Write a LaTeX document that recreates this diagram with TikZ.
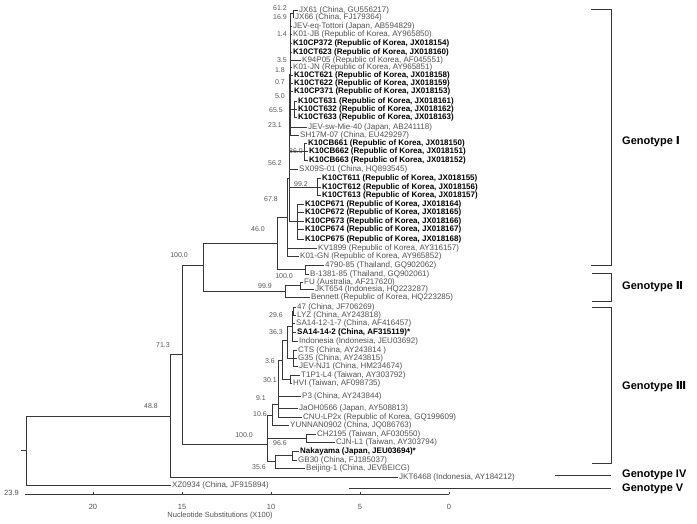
\documentclass[tikz,border=0pt]{standalone}
\usepackage{fontspec}
\setmainfont{Liberation Sans}
\newfontfamily\numfont{DejaVu Sans}
\usetikzlibrary{positioning}
\definecolor{branchgray}{RGB}{55,55,55}
\definecolor{leafgray}{RGB}{80,80,80}
\definecolor{bootgray}{RGB}{85,85,85}
\tikzset{
  br/.style  ={draw=branchgray, line width=0.9pt},
  lf/.style  ={anchor=west, inner sep=0pt, outer sep=1.2pt, text=leafgray, font=\fontsize{8}{9}\selectfont},
  lfb/.style ={lf, text=black, font=\fontsize{8}{9}\selectfont\bfseries},
  boot/.style={anchor=east, inner sep=0pt, text=bootgray, font=\fontsize{7}{8}\selectfont},
  geno/.style={anchor=west, inner sep=0pt, font=\fontsize{11}{12}\selectfont\bfseries},
  scl/.style ={inner sep=0pt, text=leafgray, font=\fontsize{7.5}{8}\selectfont}
}

\begin{document}
\begin{tikzpicture}[x=1pt, y=-1pt]
\useasboundingbox (0,0) rectangle (697,523);

% leaves
\node[lf]  (l01) at (298,10)    {JX61 (China, GU556217)};
\node[lf]  (l02) at (294,17)    {JX66 (China, FJ179364)};
\node[lf]  (l03) at (292,26)    {JEV-eq-Tottori (Japan, AB594829)};
\node[lf]  (l04) at (292,34)    {K01-JB (Republic of Korea, AY965850)};
\node[lfb] (l05) at (292,43)    {K10CP372 (Republic of Korea, JX018154)};
\node[lfb] (l06) at (292,52)    {K10CT623 (Republic of Korea, JX018160)};
\node[lf]  (l07) at (301,60.5)  {K94P05 (Republic of Korea, AF045551)};
\node[lf]  (l08) at (292,67.5)  {K01-JN (Republic of Korea, AY965851)};
\node[lfb] (l09) at (293,75.5)  {K10CT621 (Republic of Korea, JX018158)};
\node[lfb] (l10) at (293,83.5)  {K10CT622 (Republic of Korea, JX018159)};
\node[lfb] (l11) at (293,91.5)  {K10CP371 (Republic of Korea, JX018153)};
\node[lfb] (l12) at (297,101)   {K10CT631 (Republic of Korea, JX018161)};
\node[lfb] (l13) at (297,109)   {K10CT632 (Republic of Korea, JX018162)};
\node[lfb] (l14) at (297,117.5) {K10CT633 (Republic of Korea, JX018163)};
\node[lf]  (l15) at (307,127)   {JEV-sw-Mie-40 (Japan, AB241118)};
\node[lf]  (l16) at (299,135)   {SH17M-07 (China, EU429297)};
\node[lfb] (l17) at (307,143)   {K10CB661 (Republic of Korea, JX018150)};
\node[lfb] (l18) at (308,151.5) {K10CB662 (Republic of Korea, JX018151)};
\node[lfb] (l19) at (308,160)   {K10CB663 (Republic of Korea, JX018152)};
\node[lf]  (l20) at (298,169.5) {SX09S-01 (China, HQ893545)};
\node[lfb] (l21) at (321,178)   {K10CT611 (Republic of Korea, JX018155)};
\node[lfb] (l22) at (321,187)   {K10CT612 (Republic of Korea, JX018156)};
\node[lfb] (l23) at (321,195)   {K10CT613 (Republic of Korea, JX018157)};
\node[lfb] (l24) at (304,204.5) {K10CP671 (Republic of Korea, JX018164)};
\node[lfb] (l25) at (304,212.5) {K10CP672 (Republic of Korea, JX018165)};
\node[lfb] (l26) at (304,221)   {K10CP673 (Republic of Korea, JX018166)};
\node[lfb] (l27) at (304,229)   {K10CP674 (Republic of Korea, JX018167)};
\node[lfb] (l28) at (304,239)   {K10CP675 (Republic of Korea, JX018168)};
\node[lf]  (l29) at (317,248)   {KV1899 (Republic of Korea, AY316157)};
\node[lf]  (l30) at (299,256)   {K01-GN (Republic of Korea, AY965852)};
\node[lf]  (l31) at (324,265)   {4790-85 (Thailand, GQ902062)};
\node[lf]  (l32) at (309,274)   {B-1381-85 (Thailand, GQ902061)};
\node[lf]  (l33) at (303,282)   {FU (Australia, AF217620)};
\node[lf]  (l34) at (314,289.5) {JKT654 (Indonesia, HQ223287)};
\node[lf]  (l35) at (310,297.5) {Bennett (Republic of Korea, HQ223285)};
\node[lf]  (l36) at (296,307)   {47 (China, JF706269)};
\node[lf]  (l37) at (296,315)   {LYZ (China, AY243818)};
\node[lf]  (l38) at (295,323.5) {SA14-12-1-7 (China, AF416457)};
\node[lfb] (l39) at (296,332)   {SA14-14-2 (China, AF315119)*};
\node[lf]  (l40) at (298,341.5) {Indonesia (Indonesia, JEU03692)};
\node[lf]  (l41) at (297,350)   {CTS (China, AY243814 )};
\node[lf]  (l42) at (297,358)   {G35 (China, AY243815)};
\node[lf]  (l43) at (298,366)   {JEV-NJ1 (China, HM234674)};
\node[lf]  (l44) at (300,375)   {T1P1-L4 (Taiwan, AY303792)};
\node[lf]  (l45) at (292,383)   {HVI (Taiwan, AF098735)};
\node[lf]  (l46) at (301,396.5) {P3 (China, AY243844)};
\node[lf]  (l47) at (298,408)   {JaOH0566 (Japan, AY508813)};
\node[lf]  (l48) at (302,417.5) {CNU-LP2x (Republic of Korea, GQ199609)};
\node[lf]  (l49) at (289,425)   {YUNNAN0902 (China, JQ086763)};
\node[lf]  (l50) at (316,434.5) {CH2195 (Taiwan, AF030550)};
\node[lf]  (l51) at (335,442.5) {CJN-L1 (Taiwan, AY303794)};
\node[lfb] (l52) at (299,451)   {Nakayama (Japan, JEU03694)*};
\node[lf]  (l53) at (297,460)   {GB30 (China, FJ185037)};
\node[lf]  (l54) at (305,468)   {Beijing-1 (China, JEVBEICG)};
\node[lf]  (l55) at (398,477)   {JKT6468 (Indonesia, AY184212)};
\node[lf]  (l56) at (171,485)   {XZ0934 (China, JF915894)};

% internal nodes
\coordinate (rootstem) at (21,450);
\coordinate (root)  at (26,450);
\coordinate (n488)  at (170,416);
\coordinate (n713)  at (182,354);
\coordinate (n100a) at (203,265);
\coordinate (n460)  at (277,243);
\coordinate (nIc)   at (287,217);
\coordinate (nIb)   at (289,178);
\coordinate (nIa)   at (290.5,74);
\coordinate (n612)  at (293,13.5);
\coordinate (n655)  at (294,109);
\coordinate (n860)  at (304,151.5);
\coordinate (n992)  at (317,187);
\coordinate (ncp67) at (297,221.5);
\coordinate (n4790) at (305,269.5);
\coordinate (n999)  at (285,291);
\coordinate (nfu)   at (300,285.5);
\coordinate (ng3)   at (267,444);
\coordinate (n106)  at (272,415);
\coordinate (n91)   at (278,404);
\coordinate (n30x)  at (282,360);
\coordinate (n36)   at (287,340);
\coordinate (n363)  at (292.5,326);
\coordinate (n296)  at (293.5,311);
\coordinate (ncg)   at (293,358);
\coordinate (n301)  at (290,379);
\coordinate (ncj)   at (306,438.5);
\coordinate (n356)  at (275,461.5);
\coordinate (nnak)  at (292,455.5);

% branches
\draw[br] (rootstem) -- (root);
\draw[br] (root) |- (n488);  \draw[br] (root) |- (l56.west);
\draw[br] (n488) |- (n713);  \draw[br] (n488) |- (l55.west);
\draw[br] (n713) |- (n100a); \draw[br] (n713) |- (ng3);
\draw[br] (n100a) |- (n460); \draw[br] (n100a) |- (n999);
\draw[br] (n460) |- (nIc);   \draw[br] (n460) |- (n4790);
\draw[br] (n4790) |- (l31.west); \draw[br] (n4790) |- (l32.west);
\draw[br] (n999) |- (nfu);   \draw[br] (n999) |- (l35.west);
\draw[br] (nfu) |- (l33.west); \draw[br] (nfu) |- (l34.west);
\draw[br] (nIc) |- (nIb);    \draw[br] (nIc) |- (l29.west); \draw[br] (nIc) |- (l30.west);
\draw[br] (nIb) |- (nIa);    \draw[br] (nIb) |- (n860);     \draw[br] (nIb) |- (l20.west);
\draw[br] (nIb) |- (n992);   \draw[br] (nIb) |- (ncp67);
\draw[br] (nIa) |- (n612);   \draw[br] (nIa) |- (n655);
\foreach \l in {l03,l04,l05,l06,l07,l08,l09,l10,l11,l15,l16}
  \draw[br] (nIa) |- (\l.west);
\draw[br] (n612) |- (l01.west); \draw[br] (n612) |- (l02.west);
\foreach \l in {l12,l13,l14} \draw[br] (n655) |- (\l.west);
\foreach \l in {l17,l18,l19} \draw[br] (n860) |- (\l.west);
\foreach \l in {l21,l22,l23} \draw[br] (n992) |- (\l.west);
\foreach \l in {l24,l25,l26,l27,l28} \draw[br] (ncp67) |- (\l.west);
% genotype III
\draw[br] (ng3) |- (n106);   \draw[br] (ng3) |- (ncj);  \draw[br] (ng3) |- (n356);
\draw[br] (n106) |- (n91);   \draw[br] (n106) |- (l49.west);
\draw[br] (n91) |- (n30x);
\foreach \l in {l46,l47,l48} \draw[br] (n91) |- (\l.west);
\draw[br] (n30x) |- (n36);   \draw[br] (n30x) |- (n301);
\draw[br] (n36) |- (n363);   \draw[br] (n36) |- (ncg);
\draw[br] (n363) |- (n296);
\foreach \l in {l38,l39,l40} \draw[br] (n363) |- (\l.west);
\draw[br] (n296) |- (l36.west); \draw[br] (n296) |- (l37.west);
\foreach \l in {l41,l42,l43} \draw[br] (ncg) |- (\l.west);
\draw[br] (n301) |- (l44.west); \draw[br] (n301) |- (l45.west);
\draw[br] (ncj) |- (l50.west);  \draw[br] (ncj) |- (l51.west);
\draw[br] (n356) |- (nnak);     \draw[br] (n356) |- (l54.west);
\draw[br] (nnak) |- (l52.west); \draw[br] (nnak) |- (l53.west);

% bootstrap values
\node[boot] (b612)  at (287,8)     {61.2};
\node[boot] (b169)  at (287,17)    {16.9};
\node[boot] (b14)   at (287,34)    {1.4};
\node[boot] (b35)   at (287,60.5)  {3.5};
\node[boot] (b18)   at (285,70.5)  {1.8};
\node[boot] (b07)   at (285,82)    {0.7};
\node[boot] (b50)   at (285,96)    {5.0};
\node[boot] (b655)  at (283,110)   {65.5};
\node[boot] (b231)  at (282,125)   {23.1};
\node[boot] (b860)  at (303,151)   {86.0};
\node[boot] (b562)  at (282,163)   {56.2};
\node[boot] (b992)  at (308,184)   {99.2};
\node[boot] (b678)  at (278,199)   {67.8};
\node[boot] (b460)  at (265,229)   {46.0};
\node[boot] (b100a) at (188,255)   {100.0};
\node[boot] (b100b) at (293,276)   {100.0};
\node[boot] (b999)  at (272,286)   {99.9};
\node[boot] (b713)  at (170,345)   {71.3};
\node[boot] (b488)  at (158,406)   {48.8};
\node[boot] (b296)  at (283,315)   {29.6};
\node[boot] (b363)  at (283,332)   {36.3};
\node[boot] (b36)   at (275,361)   {3.6};
\node[boot] (b301)  at (277,380)   {30.1};
\node[boot] (b91)   at (266,398)   {9.1};
\node[boot] (b106)  at (267,414)   {10.6};
\node[boot] (b100c) at (253,435)   {100.0};
\node[boot] (b966)  at (287,443)   {96.6};
\node[boot] (b356)  at (266,467)   {35.6};

% genotype brackets
\draw[br] (591,9) -- (611,9) -- (611,265) -- (591,265);
\draw[br] (592,273) -- (611,273) -- (611,301) -- (592,301);
\draw[br] (592,307) -- (611,307) -- (611,463) -- (592,463);
\draw[br] (555,475) -- (611,475);
\draw[br] (349,488) -- (611,488);
\node[geno] (g1) at (622,142) {Genotype {\numfont Ⅰ}};
\node[geno] (g2) at (622,287) {Genotype {\numfont Ⅱ}};
\node[geno] (g3) at (622,387) {Genotype {\numfont Ⅲ}};
\node[geno] (g4) at (622,475) {Genotype IV};
\node[geno] (g5) at (622,489) {Genotype V};

% scale bar
\draw[br] (25,494) -- (449,494);
\foreach \t/\v in {449/0,360/5,271/10,182/15,93/20} {
  \draw[br] (\t,494) -- (\t,491.5);
  \node[scl] at (\t,507) {\v};
}
\node[scl, anchor=east] (s239) at (19,493) {23.9};
\node[scl] (saxis) at (220,516) {Nucleotide Substitutions (X100)};
\end{tikzpicture}
\end{document}
